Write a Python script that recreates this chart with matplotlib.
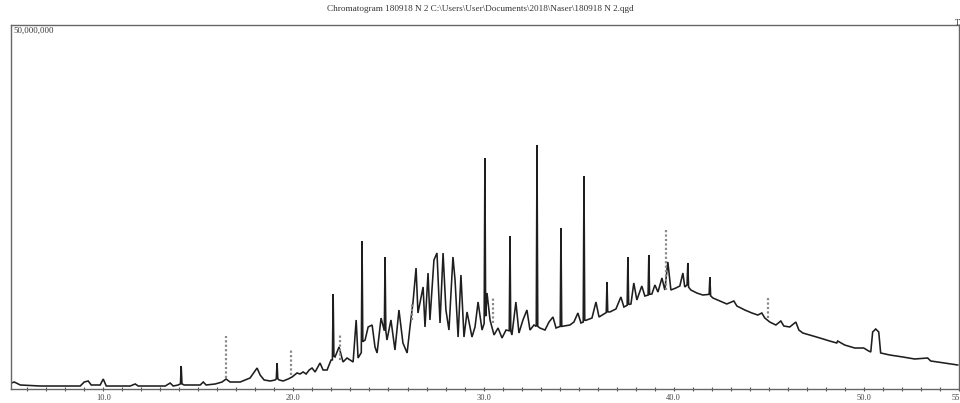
import matplotlib
matplotlib.use("Agg")
import matplotlib.pyplot as plt
import numpy as np

# Retention time (min) and TIC intensity (millions of counts)
time_min = [5.17, 5.32, 5.64, 6.69, 7.74, 8.79, 9.00, 9.21, 9.37, 9.84, 10.00, 10.16, 11.42, 11.68, 11.84,
            13.26, 13.52, 13.68, 13.94, 14.06, 14.10, 14.14, 14.26, 15.10, 15.26, 15.41, 15.89, 16.25, 16.46,
            16.67, 17.20, 17.46, 17.72, 17.94, 18.09, 18.25, 18.46, 18.78, 19.04, 19.10, 19.14, 19.18, 19.25,
            19.46, 19.72, 19.93, 20.19, 20.35, 20.51, 20.67, 20.83, 20.98, 21.14, 21.40, 21.56, 21.77, 21.98,
            22.05, 22.09, 22.13, 22.19, 22.40, 22.61, 22.82, 22.98, 23.14, 23.30, 23.40, 23.57, 23.61, 23.65,
            23.77, 23.93, 24.14, 24.29, 24.40, 24.61, 24.78, 24.82, 24.86, 24.92, 25.13, 25.34, 25.55, 25.76,
            25.98, 26.13, 26.29, 26.45, 26.55, 26.82, 26.92, 27.08, 27.18, 27.39, 27.55, 27.71, 27.87, 28.02,
            28.18, 28.39, 28.50, 28.66, 28.81, 28.97, 29.13, 29.39, 29.55, 29.71, 29.92, 30.03, 30.07, 30.11,
            30.18, 30.34, 30.55, 30.76, 30.97, 31.18, 31.35, 31.39, 31.43, 31.49, 31.70, 31.86, 32.07, 32.28,
            32.44, 32.65, 32.77, 32.81, 32.85, 32.96, 33.23, 33.44, 33.65, 33.81, 34.03, 34.07, 34.11, 34.23,
            34.54, 34.75, 34.96, 35.12, 35.24, 35.28, 35.32, 35.43, 35.70, 35.91, 36.07, 36.33, 36.45, 36.49,
            36.53, 36.64, 36.96, 37.22, 37.38, 37.55, 37.59, 37.63, 37.75, 37.90, 38.06, 38.32, 38.48, 38.65,
            38.69, 38.73, 38.85, 39.01, 39.17, 39.38, 39.53, 39.69, 39.85, 40.11, 40.32, 40.48, 40.58, 40.70,
            40.74, 40.78, 40.90, 41.21, 41.53, 41.86, 41.90, 41.94, 42.06, 42.42, 42.79, 43.16, 43.32, 43.74,
            44.11, 44.42, 44.63, 44.79, 45.05, 45.37, 45.63, 45.79, 46.10, 46.42, 46.58, 46.79, 47.15, 47.68,
            48.20, 48.57, 48.62, 48.99, 49.52, 49.99, 50.25, 50.36, 50.46, 50.62, 50.78, 50.88, 51.36, 52.04,
            52.67, 53.35, 53.51, 54.25, 54.93]
intensity_m = [0.82, 0.96, 0.55, 0.41, 0.41, 0.41, 0.96, 1.10, 0.55, 0.55, 1.37, 0.41, 0.41, 0.69, 0.41,
               0.41, 0.82, 0.41, 0.55, 0.70, 3.16, 0.70, 0.55, 0.55, 0.96, 0.55, 0.69, 0.96, 1.37,
               0.96, 0.96, 1.24, 1.51, 2.34, 2.88, 1.92, 1.24, 1.10, 1.24, 1.40, 3.57, 1.40, 1.24,
               1.10, 1.37, 1.65, 2.20, 2.06, 2.34, 2.06, 2.61, 2.88, 2.34, 3.57, 2.61, 2.61, 3.98,
               4.00, 13.05, 4.50, 4.40, 5.77, 3.71, 4.26, 3.98, 3.71, 9.48, 4.26, 5.00, 20.33, 6.50,
               6.73, 8.52, 8.79, 5.77, 4.95, 9.75, 8.00, 18.13, 8.00, 6.73, 9.48, 5.36, 10.85, 6.32,
               4.95, 8.52, 11.95, 16.62, 10.44, 14.01, 8.52, 15.93, 9.48, 17.72, 18.68, 9.07, 18.68, 10.85,
               8.10, 18.13, 14.97, 7.14, 15.66, 7.14, 10.58, 7.14, 8.52, 11.95, 8.10, 9.00, 31.73, 10.00,
               13.19, 9.48, 7.42, 8.38, 7.01, 8.10, 8.00, 21.02, 8.00, 7.42, 11.95, 7.69, 9.48, 10.85,
               8.10, 8.79, 8.60, 33.52, 8.60, 8.38, 8.10, 9.20, 9.89, 8.38, 8.60, 22.11, 8.60, 8.65,
               8.79, 9.20, 10.44, 9.07, 9.20, 29.26, 9.40, 9.48, 9.75, 11.95, 9.89, 10.30, 10.50, 14.70,
               10.60, 10.58, 10.99, 12.64, 11.26, 11.50, 18.13, 11.60, 11.68, 14.56, 12.23, 14.15, 12.77, 12.90,
               18.41, 13.00, 13.05, 14.29, 13.32, 15.25, 13.60, 17.45, 13.60, 13.87, 14.15, 15.93, 14.01, 14.30,
               17.31, 14.00, 13.60, 13.19, 12.91, 13.00, 15.38, 12.80, 12.50, 12.09, 11.68, 12.09, 11.40, 10.85,
               10.44, 10.16, 10.44, 9.75, 9.20, 8.79, 9.34, 8.65, 8.52, 9.20, 8.10, 7.69, 7.42, 7.01,
               6.59, 6.32, 6.59, 6.04, 5.63, 5.63, 5.22, 5.08, 7.83, 8.24, 7.83, 4.95, 4.67, 4.40,
               4.12, 4.26, 3.85, 3.57, 3.30]

# Peak-label marks (rotated labels, unreadable): time and vertical extent (millions)
label_t = [16.46, 19.88, 22.45, 26.24, 30.50, 39.58, 44.95]
label_lo = [1.51, 1.92, 3.98, 9.48, 9.07, 13.60, 9.75]
label_hi = [7.28, 5.49, 7.42, 11.95, 12.50, 21.98, 12.77]

x_ticks = [10.0, 20.0, 30.0, 40.0, 50.0, 55.0]
title = r"Chromatogram 180918 N 2 C:\Users\User\Documents\2018\Naser\180918 N 2.qgd"

W, H = 960, 403
fig = plt.figure(figsize=(W / 100, H / 100), dpi=100)
ax = fig.add_axes([11 / W, 1 - 389 / H, (959 - 11) / W, (389 - 25) / H])

t = np.array(time_min)
y = np.array(intensity_m) * 1e6
ax.plot(t, y, color="#1e1e1e", lw=1.15, solid_joinstyle="miter")
ax.vlines(label_t, np.array(label_lo) * 1e6, np.array(label_hi) * 1e6,
          colors="#8a8a8a", linestyles=(0, (1, 1)), lw=1.6)

ax.set_xlim(5.15, 55.0)
ax.set_ylim(0, 50e6)
ax.set_xticks(x_ticks)
ax.set_xticklabels([f"{v:.1f}" for v in x_ticks])
ax.set_xticks(np.arange(6, 56, 1.0), minor=True)
ax.set_yticks([])
ax.tick_params(axis="x", which="both", direction="inout", length=3, width=0.8,
               colors="#555555", labelsize=6, pad=2)
for lab in ax.get_xticklabels():
    lab.set_family("Liberation Serif")
    lab.set_color("#444444")
for s in ax.spines.values():
    s.set_color("#666666")
    s.set_linewidth(1.0)

fig.text(480 / W, 1 - 9 / H, title, ha="center", va="center", fontsize=6.6,
         family="Liberation Serif", color="#333333")
ax.text(0.003, 0.995, "50,000,000", transform=ax.transAxes, ha="left", va="top",
        fontsize=6.3, family="Liberation Serif", color="#333333")
fig.text(955 / W, 1 - 27 / H, "TIC", ha="left", va="bottom", fontsize=6,
         family="Liberation Serif", color="#333333")

fig.savefig("out.png", dpi=100)
